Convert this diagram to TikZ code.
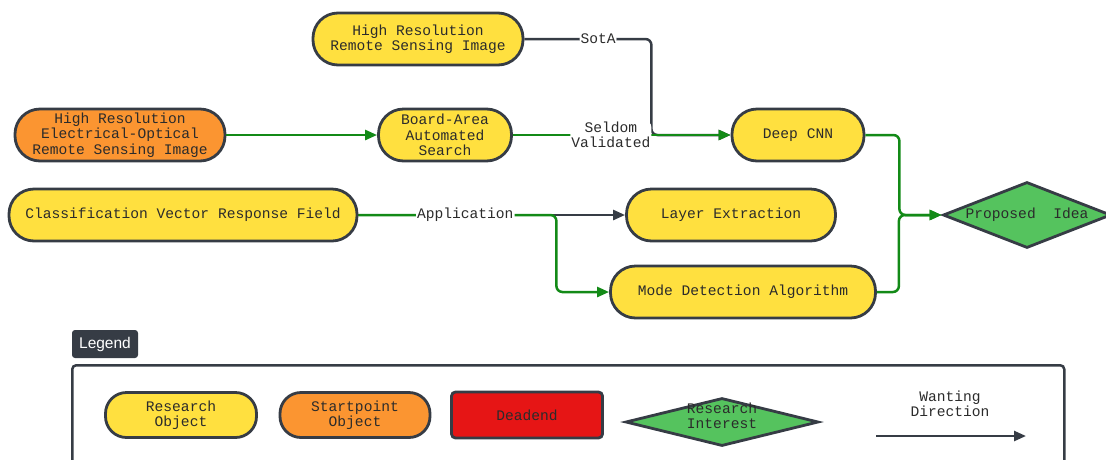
\documentclass[tikz,border=0pt]{standalone}
\usepackage{fontspec}
\setmainfont{Liberation Mono}
\newfontfamily\tagfont{Liberation Sans}
\usetikzlibrary{shapes,arrows.meta,positioning}
\definecolor{objyellow}{HTML}{FFE03F}
\definecolor{startorange}{HTML}{FB9531}
\definecolor{deadred}{HTML}{E61515}
\definecolor{interestgreen}{HTML}{55C35E}
\definecolor{linkgreen}{HTML}{138A17}
\definecolor{outline}{HTML}{363C45}
\definecolor{textdark}{HTML}{2B2B2B}

\begin{document}
\begin{tikzpicture}[
    x=1pt, y=-1pt,
    every node/.style={align=center, font=\fontsize{14.6}{15.5}\selectfont, text=textdark},
    object/.style={rectangle, rounded corners=25pt, minimum height=52pt, inner sep=0pt, text centered, draw=outline, fill=objyellow, line width=2.8pt},
    start/.style={object, fill=startorange},
    legendobj/.style={object, minimum height=45pt, rounded corners=21pt},
    deadend/.style={rectangle, rounded corners=4pt, minimum width=151pt, minimum height=46pt, inner sep=0pt, draw=outline, fill=deadred, line width=2.8pt},
    interest/.style={diamond, inner sep=0pt, draw=outline, fill=interestgreen, line width=2.8pt},
    tagbox/.style={rectangle, rounded corners=3pt, fill=outline, text=white, font=\tagfont\fontsize{15.5}{17}\selectfont, minimum width=66pt, minimum height=28pt, inner sep=0pt},
    legendbox/.style={rectangle, rounded corners=4pt, draw=outline, line width=2.5pt, inner sep=0pt},
    arrow/.style={line width=2.5pt, draw=outline, rounded corners=6pt, ->, >={Triangle[length=12pt,width=10pt]}},
    wanted/.style={arrow, draw=linkgreen},
    edgelabel/.style={fill=white, inner sep=1pt}
]
\useasboundingbox (0,0) rectangle (1106,459);

% Objects
\node[object, minimum width=210pt] (hrrsi) at (418,39) {High Resolution\\Remote Sensing Image};
\node[start, minimum width=210pt] (hreo) at (120,135) {High Resolution\\Electrical-Optical\\Remote Sensing Image};
\node[object, minimum width=133pt] (boardarea) at (445,135) {Board-Area\\Automated\\Search};
\node[object, minimum width=132pt] (cnn) at (798,135) {Deep CNN};
\node[object, minimum width=348pt] (cvrf) at (183,215) {Classification Vector Response Field};
\node[object, minimum width=209pt] (layer) at (731,215) {Layer Extraction};
\node[object, minimum width=265pt] (mode) at (743,292) {Mode Detection Algorithm};

% Research interest
\node[interest, minimum width=168pt, minimum height=66pt] (idea) at (1027,215) {\makebox[0pt]{Proposed\ \ Idea}};

% Connections
\draw[arrow] (hrrsi.east) -- node[edgelabel, pos=0.58] {SotA} ++(127,0) |- (cnn.west);
\draw[wanted] (hreo) -- (boardarea);
\draw[wanted] (boardarea) -- node[edgelabel, pos=0.45] {Seldom\\Validated} (cnn);
\draw[arrow] (cvrf) -- (layer);
\draw[wanted] (cvrf.east) -- node[edgelabel, pos=0.54] {Application} ++(198,0) |- (mode.west);
\draw[wanted] (cnn.east) -- ++(34,0) |- (idea.west);
\draw[wanted] (mode.east) -- ++(22,0) |- (idea.west);

% Legend
\node[tagbox] (legendtag) at (105,344) {Legend};
\node[legendbox, anchor=north west, minimum width=992pt, minimum height=130pt] (legend) at (71,364) {};
\node[legendobj, minimum width=151pt] (legresearch) at (181,415) {Research\\Object};
\node[legendobj, minimum width=150pt, fill=startorange] (legstart) at (355,415) {Startpoint\\Object};
\node[deadend] (legdead) at (527,415) {Deadend};
\node[interest, minimum width=193pt, minimum height=48pt, label={[yshift=6pt]center:{Research\\Interest}}] (leginterest) at (722,422) {};
\node (legwant) at (950,404) {Wanting\\Direction};
\coordinate (wantfrom) at (876,436);
\coordinate (wantto) at (1026,436);
\draw[arrow] (wantfrom) -- (wantto);

\end{tikzpicture}
\end{document}
